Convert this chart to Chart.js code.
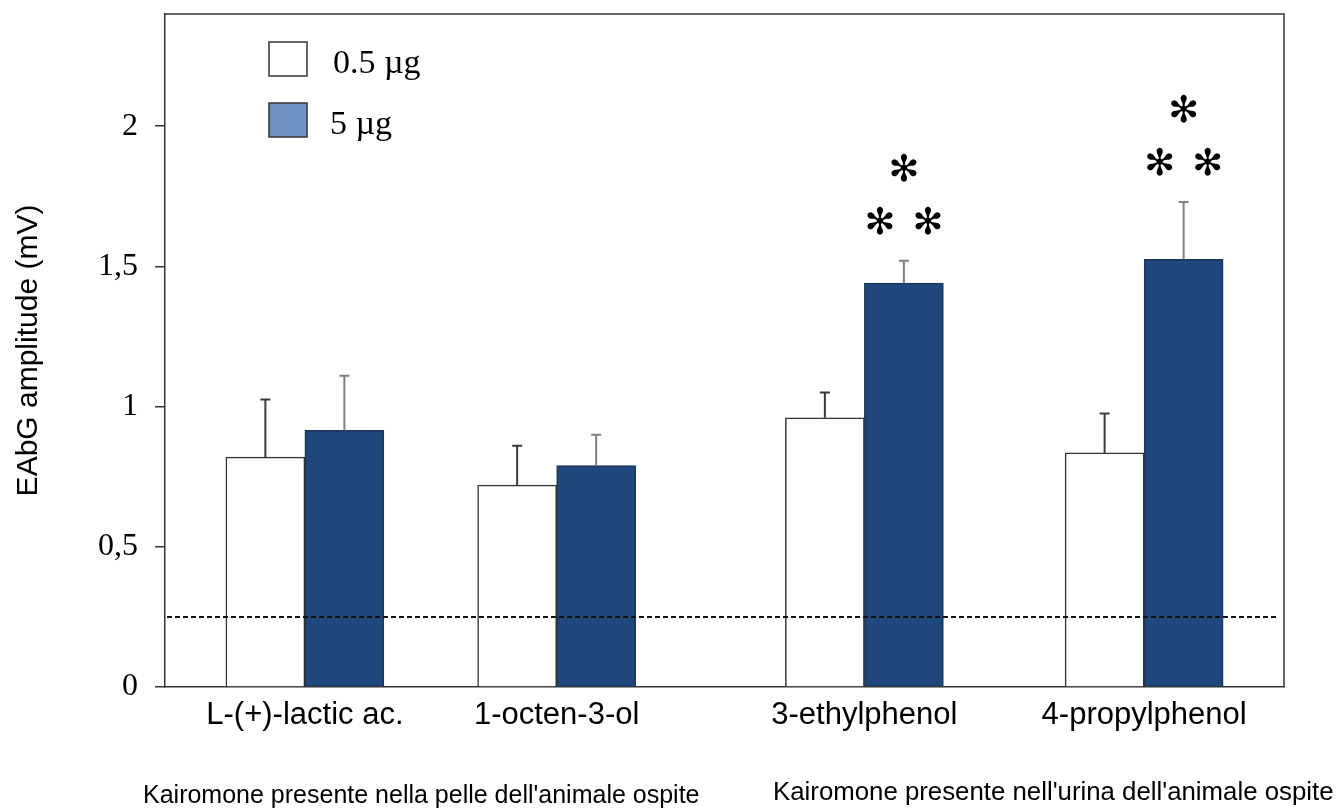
<!DOCTYPE html>
<html>
<head>
<meta charset="utf-8">
<script src="https://cdn.jsdelivr.net/npm/chart.js@4.4.0/dist/chart.umd.min.js"></script>
<style>
  body { margin: 0; background: #fff; }
  #wrap { width: 1337px; height: 810px; }
</style>
</head>
<body>
<div id="wrap"><canvas id="eagChart" width="1337" height="810"></canvas></div>
<script>
// values (mean + upper SEM)
const compounds = ['L-(+)-lactic ac.', '1-octen-3-ol', '3-ethylphenol', '4-propylphenol'];
const groupX = [1, 1.9, 3, 4];
const lowDose = [0.82, 0.72, 0.96, 0.835];
const lowDoseErr = [0.205, 0.14, 0.09, 0.14];
const highDose = [0.915, 0.79, 1.44, 1.525];
const highDoseErr = [0.195, 0.11, 0.08, 0.205];
const highDoseStars = [0, 0, 3, 3];
const yTicks = [0, 0.5, 1, 1.5, 2];
const threshold = 0.25;
const notes = ["Kairomone presente nella pelle dell'animale ospite", "Kairomone presente nell'urina dell'animale ospite"];

const SANS = '"Liberation Sans", Arial, sans-serif';
const SERIF = '"Liberation Serif", "Times New Roman", serif';
const INK = '#333333';

// top and right side of the plot frame
const frame = {
    id: 'frame',
    beforeDatasetsDraw(chart) {
        const { ctx, chartArea: a } = chart;
        ctx.save();
        ctx.strokeStyle = INK;
        ctx.lineWidth = 1.5;
        ctx.beginPath();
        ctx.moveTo(a.left, a.top);
        ctx.lineTo(a.right, a.top);
        ctx.lineTo(a.right, a.bottom);
        ctx.stroke();
        ctx.restore();
    }
};

const errorBars = {
    id: 'errorBars',
    afterDatasetsDraw(chart) {
        const ctx = chart.ctx;
        const y = chart.scales.y;
        chart.data.datasets.forEach((ds, i) => {
            chart.getDatasetMeta(i).data.forEach((bar, j) => {
                const top = y.getPixelForValue(ds.data[j].y + ds.errors[j]);
                ctx.save();
                ctx.strokeStyle = ds.errorColor;
                ctx.lineWidth = 2;
                ctx.beginPath();
                ctx.moveTo(bar.x, bar.y);
                ctx.lineTo(bar.x, top);
                ctx.moveTo(bar.x - 5, top);
                ctx.lineTo(bar.x + 5, top);
                ctx.stroke();
                ctx.restore();
            });
        });
    }
};

const thresholdLine = {
    id: 'thresholdLine',
    afterDatasetsDraw(chart) {
        const { ctx, chartArea: a } = chart;
        const py = chart.scales.y.getPixelForValue(threshold);
        ctx.save();
        ctx.strokeStyle = '#111';
        ctx.lineWidth = 2;
        ctx.setLineDash([5, 3]);
        ctx.beginPath();
        ctx.moveTo(a.left + 2, py);
        ctx.lineTo(a.right - 6, py);
        ctx.stroke();
        ctx.restore();
    }
};

// significance marks above the 5 µg bars
const stars = {
    id: 'stars',
    afterDatasetsDraw(chart) {
        const ctx = chart.ctx;
        const y = chart.scales.y;
        const meta = chart.getDatasetMeta(1);
        ctx.save();
        ctx.fillStyle = '#000';
        ctx.font = '37px "DejaVu Sans", sans-serif';
        ctx.textAlign = 'center';
        ctx.textBaseline = 'middle';
        meta.data.forEach((bar, j) => {
            if (!highDoseStars[j]) return;
            const top = y.getPixelForValue(highDose[j] + highDoseErr[j]);
            ctx.fillText('\u273B', bar.x - 24, top - 36);
            ctx.fillText('\u273B', bar.x + 24, top - 36);
            ctx.fillText('\u273B', bar.x, top - 89);
        });
        ctx.restore();
    }
};

const boxLegend = {
    id: 'boxLegend',
    afterDraw(chart) {
        const { ctx, chartArea: a } = chart;
        const fills = ['#ffffff', '#6f93c2'];
        ctx.save();
        ctx.font = '34px ' + SERIF;
        ctx.textBaseline = 'alphabetic';
        chart.data.datasets.forEach((ds, i) => {
            const bx = a.left + 104, by = a.top + 28 + i * 61;
            ctx.fillStyle = fills[i];
            ctx.fillRect(bx, by, 38, 34);
            ctx.strokeStyle = INK;
            ctx.lineWidth = 1.5;
            ctx.strokeRect(bx, by, 38, 34);
            ctx.fillStyle = '#000';
            ctx.fillText(ds.label, bx + 64 - (i ? 3 : 0), by + 31);
        });
        ctx.restore();
    }
};

const sourceNotes = {
    id: 'sourceNotes',
    afterDraw(chart) {
        const ctx = chart.ctx;
        ctx.save();
        ctx.fillStyle = '#000';
        ctx.textBaseline = 'alphabetic';
        ctx.font = '25px ' + SANS;
        ctx.fillText(notes[0], 143, 803);
        ctx.font = '25.8px ' + SANS;
        ctx.fillText(notes[1], 773, 800);
        ctx.restore();
    }
};

new Chart(document.getElementById('eagChart'), {
    type: 'bar',
    data: {
        datasets: [
            {
                label: '0.5 \u00b5g',
                data: groupX.map((x, i) => ({ x: x, y: lowDose[i] })),
                errors: lowDoseErr,
                errorColor: '#3a3a3a',
                backgroundColor: '#ffffff',
                borderColor: INK,
                borderWidth: 1.5,
                barThickness: 79
            },
            {
                label: '5 \u00b5g',
                data: groupX.map((x, i) => ({ x: x, y: highDose[i] })),
                errors: highDoseErr,
                errorColor: '#808080',
                backgroundColor: '#1f477b',
                borderColor: '#1a3558',
                borderWidth: 1.5,
                barThickness: 79
            }
        ]
    },
    options: {
        responsive: false,
        animation: false,
        layout: { padding: { left: 0, top: 14, right: 53, bottom: 0 } },
        plugins: {
            legend: { display: false },
            tooltip: { enabled: false }
        },
        scales: {
            x: {
                type: 'linear',
                min: 0.5,
                max: 4.5,
                offset: false,
                afterFit: s => { s.height = 123; s.paddingLeft = 0; s.paddingRight = 0; },
                afterBuildTicks: s => { s.ticks = groupX.map(v => ({ value: v })); },
                grid: { display: false, drawTicks: false },
                border: { color: INK, width: 1.5 },
                ticks: {
                    autoSkip: false,
                    maxRotation: 0,
                    padding: 10,
                    color: '#000',
                    font: { family: SANS, size: 31 },
                    callback: (v, i) => compounds[i]
                }
            },
            y: {
                min: 0,
                max: 2.4,
                afterFit: s => { s.width = 165; s.paddingTop = 0; s.paddingBottom = 0; },
                afterBuildTicks: s => { s.ticks = yTicks.map(v => ({ value: v })); },
                grid: { drawOnChartArea: false, drawTicks: true, tickLength: 10, color: INK, lineWidth: 1.5 },
                border: { color: INK, width: 1.5 },
                ticks: {
                    padding: 17,
                    color: '#000',
                    font: { family: SERIF, size: 32 },
                    callback: v => String(v).replace('.', ',')
                },
                title: {
                    display: true,
                    text: 'EAbG amplitude (mV)',
                    color: '#000',
                    font: { family: SANS, size: 30 },
                    padding: { top: 11, bottom: 0 }
                }
            }
        }
    },
    plugins: [frame, errorBars, thresholdLine, stars, boxLegend, sourceNotes]
});
</script>
</body>
</html>
